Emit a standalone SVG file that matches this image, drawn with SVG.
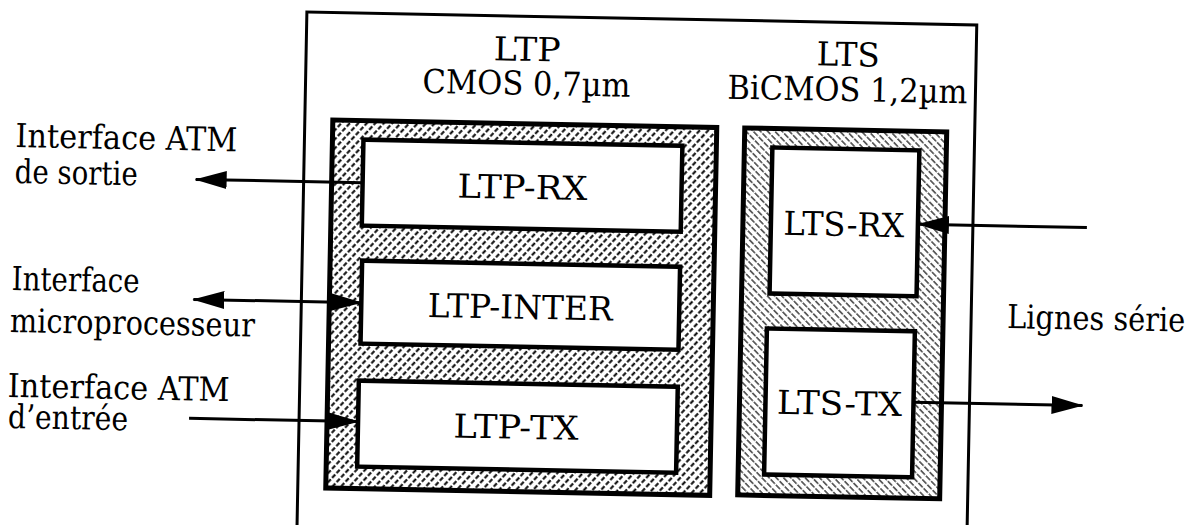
<svg xmlns="http://www.w3.org/2000/svg" width="1194" height="525" viewBox="0 0 1194 525">
<style>
.t{font-family:'DejaVu Serif','Liberation Serif',serif;font-size:33px;fill:#000}
.mid{text-anchor:middle}
.end{text-anchor:end}
.outer{fill:none;stroke:#000;stroke-width:3}
.hatchP{fill:url(#hp);stroke:#000;stroke-width:5}
.hatchS{fill:url(#hs);stroke:#000;stroke-width:5}
.blk{fill:#fff;stroke:#000;stroke-width:4.5}
.wire{fill:none;stroke:#000;stroke-width:3}
</style>
<defs>
<pattern id="hp" patternUnits="userSpaceOnUse" width="6.2" height="6.5" patternTransform="rotate(42)">
<rect width="6.2" height="6.5" fill="#fff"/>
<line x1="3.1" y1="0" x2="3.1" y2="6.5" stroke="#000" stroke-width="2" stroke-dasharray="4.5 2"/>
</pattern>
<pattern id="hs" patternUnits="userSpaceOnUse" width="5.2" height="7.5" patternTransform="rotate(-45)">
<rect width="5.2" height="7.5" fill="#fff"/>
<line x1="2.6" y1="0" x2="2.6" y2="7.5" stroke="#111" stroke-width="1.2" stroke-dasharray="6 1.5"/>
</pattern>
<marker id="ah" viewBox="0 0 32 18" refX="31" refY="9" markerWidth="32" markerHeight="18" markerUnits="userSpaceOnUse" orient="auto-start-reverse">
<path d="M0,0 L32,9 L0,18 z" fill="#000"/>
</marker>
</defs>
<g transform="rotate(1.1 640 270)">
<g id="chip"><rect class="outer" x="302" y="18.5" width="670" height="515"/></g>
<g id="ltp">
<rect class="hatchP" x="330" y="126" width="384" height="368"/>
<text class="t mid" x="523" y="63" textLength="67" lengthAdjust="spacingAndGlyphs">LTP</text>
<text class="t mid" x="523" y="97" textLength="208" lengthAdjust="spacingAndGlyphs">CMOS 0,7µm</text>
</g>
<g id="lts">
<rect class="hatchS" x="742" y="126" width="202" height="367"/>
<text class="t mid" x="844" y="62" textLength="63" lengthAdjust="spacingAndGlyphs">LTS</text>
<text class="t mid" x="844" y="97" textLength="240" lengthAdjust="spacingAndGlyphs">BiCMOS 1,2µm</text>
</g>
<g id="ltp-rx"><rect class="blk" x="361" y="145" width="319" height="86"/><text class="t mid" x="521" y="201" textLength="130" lengthAdjust="spacingAndGlyphs">LTP-RX</text></g>
<g id="ltp-inter"><rect class="blk" x="362" y="266" width="318" height="83"/><text class="t mid" x="521" y="321" textLength="185" lengthAdjust="spacingAndGlyphs">LTP-INTER</text></g>
<g id="ltp-tx"><rect class="blk" x="361" y="386" width="319" height="86"/><text class="t mid" x="519" y="441" textLength="125" lengthAdjust="spacingAndGlyphs">LTP-TX</text></g>
<g id="lts-rx"><rect class="blk" x="770" y="145" width="147" height="146"/><text class="t mid" x="843" y="232" textLength="121" lengthAdjust="spacingAndGlyphs">LTS-RX</text></g>
<g id="lts-tx"><rect class="blk" x="768" y="326" width="148" height="146"/><text class="t mid" x="842" y="411" textLength="125" lengthAdjust="spacingAndGlyphs">LTS-TX</text></g>
<g id="labels">
<text class="t" x="13" y="159" textLength="222" lengthAdjust="spacingAndGlyphs">Interface ATM</text>
<text class="t" x="13" y="195" textLength="123" lengthAdjust="spacingAndGlyphs">de sortie</text>
<text class="t" x="12" y="302" textLength="128" lengthAdjust="spacingAndGlyphs">Interface</text>
<text class="t" x="11" y="344" textLength="245" lengthAdjust="spacingAndGlyphs">microprocesseur</text>
<text class="t" x="10" y="409" textLength="222" lengthAdjust="spacingAndGlyphs">Interface ATM</text>
<text class="t" x="11" y="440" textLength="120" lengthAdjust="spacingAndGlyphs">d’entrée</text>
<text class="t end" x="1186" y="321" textLength="178" lengthAdjust="spacingAndGlyphs">Lignes série</text>
</g>
<g id="connectors">
<line class="wire" x1="361" y1="188" x2="194" y2="188" marker-end="url(#ah)"/>
<line class="wire" x1="194" y1="308" x2="362" y2="308" marker-start="url(#ah)" marker-end="url(#ah)"/>
<line class="wire" x1="192" y1="427" x2="361" y2="427" marker-end="url(#ah)"/>
<line class="wire" x1="1086" y1="219" x2="917" y2="219" marker-end="url(#ah)"/>
<line class="wire" x1="916" y1="397" x2="1085" y2="397" marker-end="url(#ah)"/>
</g>
</g>
</svg>
